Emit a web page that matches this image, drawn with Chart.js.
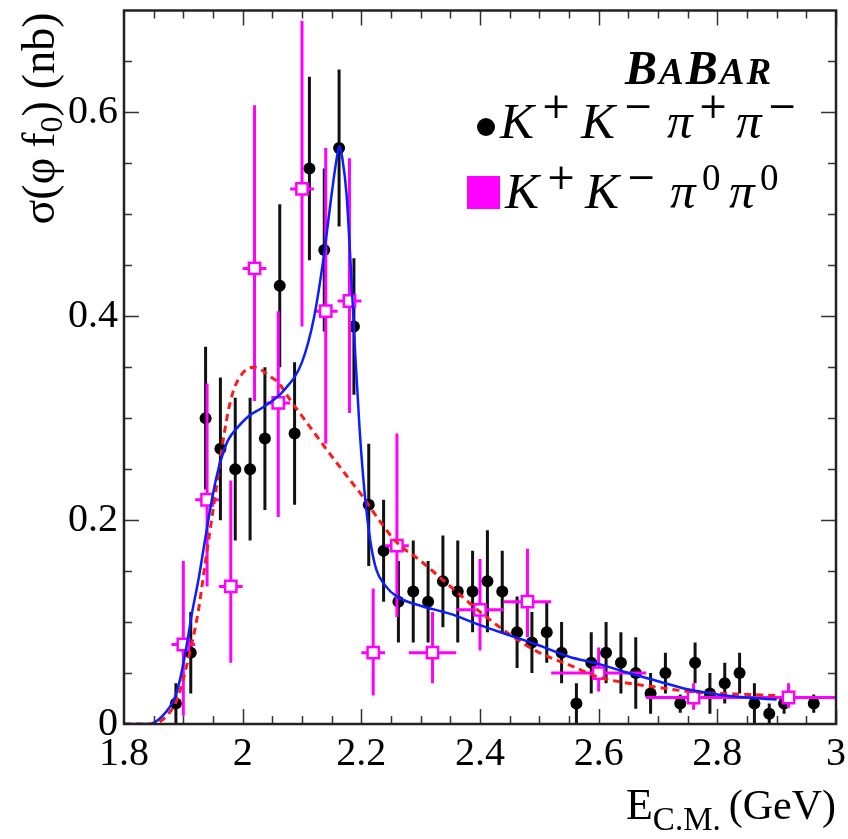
<!DOCTYPE html>
<html>
<head>
<meta charset="utf-8">
<script src="https://cdn.jsdelivr.net/npm/chart.js@4.4.1/dist/chart.umd.min.js"></script>
<style>
  html, body { margin: 0; padding: 0; background: #fff; }
  #wrap { width: 848px; height: 839px; }
</style>
</head>
<body>
<div id="wrap"><canvas id="plot" width="848" height="839"></canvas></div>
<script>
// K+K-pi+pi- cross section (black dots)
var kkpipiE = [1.8875, 1.9125, 1.9375, 1.9625, 1.9875, 2.0125, 2.0375, 2.0625, 2.0875, 2.1125,
               2.1375, 2.1625, 2.1875, 2.2125, 2.2375, 2.2625, 2.2875, 2.3125, 2.3375, 2.3625,
               2.3875, 2.4125, 2.4375, 2.4625, 2.4875, 2.5125, 2.5375, 2.5625, 2.5875, 2.6125,
               2.6375, 2.6625, 2.6875, 2.7125, 2.7375, 2.7625, 2.7875, 2.8125, 2.8375, 2.8625,
               2.8875, 2.9125, 2.9625];
var kkpipiSigma = [0.02, 0.07, 0.30, 0.27, 0.25, 0.25, 0.28, 0.43, 0.285, 0.545,
                   0.465, 0.565, 0.39, 0.215, 0.17, 0.12, 0.13, 0.12, 0.14, 0.13,
                   0.13, 0.14, 0.13, 0.09, 0.08, 0.09, 0.07, 0.02, 0.06, 0.07,
                   0.06, 0.05, 0.03, 0.05, 0.02, 0.06, 0.03, 0.04, 0.05, 0.02,
                   0.01, 0.02, 0.02];
var kkpipiErr = [0.02, 0.04, 0.07, 0.07, 0.07, 0.07, 0.07, 0.08, 0.07, 0.09,
                 0.08, 0.077, 0.067, 0.06, 0.05, 0.04, 0.05, 0.04, 0.045, 0.05,
                 0.04, 0.05, 0.04, 0.035, 0.03, 0.03, 0.03, 0.02, 0.03, 0.03,
                 0.03, 0.035, 0.02, 0.02, 0.009, 0.02, 0.02, 0.02, 0.02, 0.02,
                 0.01, 0.01, 0.009];

// K+K-pi0pi0 cross section (magenta open squares)
var kkpi0E = [1.90, 1.94, 1.98, 2.02, 2.06, 2.10, 2.14, 2.18, 2.22, 2.26, 2.32, 2.40, 2.48, 2.60, 2.76, 2.92];
var kkpi0Sigma = [0.078, 0.22, 0.135, 0.447, 0.315, 0.525, 0.405, 0.415, 0.07, 0.175, 0.07, 0.112, 0.12, 0.05, 0.026, 0.026];
var kkpi0ErrHi = [0.082, 0.114, 0.104, 0.16, 0.09, 0.165, 0.16, 0.14, 0.063, 0.11, 0.04, 0.05, 0.052, 0.025, 0.014, 0.014];
var kkpi0ErrLo = [0.07, 0.085, 0.075, 0.13, 0.112, 0.135, 0.13, 0.11, 0.042, 0.07, 0.03, 0.04, 0.035, 0.018, 0.012, 0.01];
var kkpi0HalfBin = [0.02, 0.02, 0.02, 0.02, 0.02, 0.02, 0.02, 0.02, 0.02, 0.02, 0.04, 0.04, 0.04, 0.08, 0.08, 0.08];

// fit with the Y(2175) included (blue)
var fitBlueE = [1.80, 1.845, 1.855, 1.865, 1.875, 1.885, 1.895, 1.905, 1.915, 1.925,
                1.935, 1.945, 1.955, 1.965, 1.975, 1.99, 2.01, 2.035, 2.069, 2.10,
                2.12, 2.137, 2.15, 2.158, 2.163, 2.168, 2.175, 2.183, 2.19, 2.197,
                2.205, 2.215, 2.225, 2.24, 2.26, 2.3, 2.35, 2.4, 2.45, 2.5,
                2.55, 2.6, 2.65, 2.7, 2.75, 2.8, 2.85, 2.9];
var fitBlueSigma = [0, 0, 0.003, 0.008, 0.015, 0.025, 0.045, 0.075, 0.11, 0.14,
                    0.175, 0.21, 0.24, 0.262, 0.278, 0.29, 0.302, 0.311, 0.327, 0.355,
                    0.398, 0.46, 0.52, 0.553, 0.567, 0.555, 0.52, 0.44, 0.36, 0.29,
                    0.23, 0.18, 0.152, 0.136, 0.125, 0.116, 0.108, 0.097, 0.087, 0.077,
                    0.066, 0.059, 0.05, 0.042, 0.034, 0.029, 0.026, 0.024];

// fit without resonance (red dashed)
var fitRedE = [1.80, 1.85, 1.862, 1.875, 1.89, 1.91, 1.925, 1.935, 1.945, 1.956,
               1.965, 1.975, 1.985, 1.997, 2.01, 2.02, 2.03, 2.046, 2.06, 2.08,
               2.114, 2.147, 2.18, 2.2, 2.23, 2.26, 2.3, 2.35, 2.4, 2.45,
               2.5, 2.55, 2.6, 2.65, 2.7, 2.75, 2.8, 2.85, 2.9];
var fitRedSigma = [0, 0, 0.003, 0.01, 0.025, 0.068, 0.11, 0.15, 0.19, 0.233,
                   0.27, 0.305, 0.328, 0.342, 0.349, 0.35, 0.348, 0.341, 0.335, 0.318,
                   0.291, 0.265, 0.24, 0.225, 0.2, 0.178, 0.16, 0.135, 0.11, 0.088,
                   0.07, 0.058, 0.046, 0.04, 0.036, 0.032, 0.03, 0.029, 0.028];

var xTicks = [1.8, 2, 2.2, 2.4, 2.6, 2.8, 3];
var yTicks = [0, 0.2, 0.4, 0.6];

var SERIF = '"Liberation Serif", "DejaVu Serif", serif';
var MAGENTA = '#ff00ff';

function pts(xs, ys) {
    return xs.map(function(x, i){ return {x: x, y: ys[i]}; });
}

// error bars, drawn just before each dataset's markers
var errorBars = {
    id: 'errorBars',
    beforeDatasetDraw: function(chart, args) {
        var ds = chart.data.datasets[args.index];
        if (!ds.errHi) return;
        var ctx = chart.ctx, xs = chart.scales.x, ys = chart.scales.y, a = chart.chartArea;
        ctx.save();
        ctx.beginPath();
        ctx.rect(a.left, a.top, a.right - a.left, a.bottom - a.top);
        ctx.clip();
        ctx.strokeStyle = ds.barColor;
        ctx.lineWidth = 3;
        ds.data.forEach(function(p, i){
            var px = xs.getPixelForValue(p.x);
            var py = ys.getPixelForValue(p.y);
            ctx.beginPath();
            ctx.moveTo(px, ys.getPixelForValue(p.y + ds.errHi[i]));
            ctx.lineTo(px, ys.getPixelForValue(Math.max(0, p.y - ds.errLo[i])));
            if (ds.halfBin) {
                ctx.moveTo(xs.getPixelForValue(p.x - ds.halfBin[i]), py);
                ctx.lineTo(xs.getPixelForValue(p.x + ds.halfBin[i]), py);
            }
            ctx.stroke();
        });
        ctx.restore();
    }
};

// draw text pieces one after another: [text, font, dy, gapAfter]
function drawRuns(ctx, runs, x, y) {
    runs.forEach(function(r){
        ctx.font = r[1];
        ctx.fillText(r[0], x, y + (r[2] || 0));
        x += ctx.measureText(r[0]).width + (r[3] || 0);
    });
    return x;
}
function runsWidth(ctx, runs) {
    var w = 0;
    runs.forEach(function(r){
        ctx.font = r[1];
        w += ctx.measureText(r[0]).width + (r[3] || 0);
    });
    return w;
}
// legend pieces placed at fixed offsets: [text, font, dy, x]
function drawPlaced(ctx, runs, y) {
    runs.forEach(function(r){
        ctx.font = r[1];
        ctx.fillText(r[0], r[3], y + r[2]);
    });
}

// frame, inward ticks, axis titles and legend
var decorations = {
    id: 'decorations',
    afterDraw: function(chart) {
        var ctx = chart.ctx, xs = chart.scales.x, ys = chart.scales.y, a = chart.chartArea;
        ctx.save();

        // ticks on all four sides, pointing into the frame
        ctx.strokeStyle = '#333';
        ctx.lineWidth = 1.5;
        ctx.beginPath();
        var v, px, py, len;
        for (v = 1.85; v < 3.0; v += 0.05) {
            px = Math.round(xs.getPixelForValue(v)) + 0.5;
            len = (Math.abs(v * 5 - Math.round(v * 5)) < 1e-6) ? 15 : 8;
            ctx.moveTo(px, a.bottom); ctx.lineTo(px, a.bottom - len);
            ctx.moveTo(px, a.top); ctx.lineTo(px, a.top + len);
        }
        for (v = 0.05; v < 0.7; v += 0.05) {
            py = Math.round(ys.getPixelForValue(v)) + 0.5;
            len = (Math.abs(v * 5 - Math.round(v * 5)) < 1e-6) ? 15 : 8;
            ctx.moveTo(a.left, py); ctx.lineTo(a.left + len, py);
            ctx.moveTo(a.right, py); ctx.lineTo(a.right - len, py);
        }
        ctx.stroke();

        ctx.strokeStyle = '#222';
        ctx.lineWidth = 2.5;
        ctx.strokeRect(a.left, a.top, a.right - a.left, a.bottom - a.top);

        ctx.fillStyle = '#000';
        ctx.textBaseline = 'alphabetic';
        ctx.textAlign = 'left';

        // x axis title, right aligned to the frame
        var xt = [['E', '44px ' + SERIF, 0, 0], ['C.M.', '33px ' + SERIF, 11, 8], ['(GeV)', '42px ' + SERIF, 0, 0]];
        drawRuns(ctx, xt, a.right - runsWidth(ctx, xt), 819);

        // y axis title, rotated, ending at the top of the frame
        var yf = '46px ' + SERIF;
        var yt = [['σ(φ', yf, 0, 10], ['f', yf, 0, 0], ['0', '32px ' + SERIF, 8, 0], [')', yf, 0, 12], ['(nb)', yf, 0, 0]];
        ctx.save();
        ctx.translate(54, a.top + 2);
        ctx.rotate(-Math.PI / 2);
        drawRuns(ctx, yt, -runsWidth(ctx, yt), 0);
        ctx.restore();

        // experiment label
        var big = 'italic bold 48px ' + SERIF, small = 'italic bold 37px ' + SERIF;
        drawRuns(ctx, [['B', big, 0, 2], ['A', small, 0, 2], ['B', big, 0, 2], ['A', small, 0, 2], ['R', small, 0, 0]], 625, 84);

        // legend entries
        var kf = 'italic 51px ' + SERIF, sup = '36px "DejaVu Serif", serif', sup0 = '37px ' + SERIF;
        ctx.beginPath();
        ctx.arc(486, 127, 9, 0, 2 * Math.PI);
        ctx.fill();
        drawPlaced(ctx, [['K', kf, 0, 500], ['+', sup, -20, 541], ['K', kf, 0, 581], ['\u2212', sup, -20, 623],
                         ['π', kf, 0, 667], ['+', sup, -20, 698], ['π', kf, 0, 736], ['\u2212', sup, -20, 767]], 138);

        ctx.fillStyle = MAGENTA;
        ctx.fillRect(467, 176, 33, 33);
        ctx.fillStyle = '#000';
        drawPlaced(ctx, [['K', kf, 0, 505], ['+', sup, -19, 546], ['K', kf, 0, 585], ['\u2212', sup, -19, 626],
                         ['π', kf, 0, 670], ['0', sup0, -18, 702], ['π', kf, 0, 729], ['0', sup0, -18, 760]], 208);

        ctx.restore();
    }
};

var ctx = document.getElementById('plot').getContext('2d');
var chart = new Chart(ctx, {
    type: 'scatter',
    data: {
        datasets: [
        {
            label: 'fit Y(2175)',
            data: pts(fitBlueE, fitBlueSigma),
            showLine: true,
            borderColor: '#0a1eff',
            borderWidth: 2.5,
            pointRadius: 0,
            cubicInterpolationMode: 'monotone',
            order: 0
        },
        {
            label: 'fit no resonance',
            data: pts(fitRedE, fitRedSigma),
            showLine: true,
            borderColor: '#ff1a1a',
            borderWidth: 3,
            borderDash: [7, 5],
            pointRadius: 0,
            cubicInterpolationMode: 'monotone',
            order: 1
        },
        {
            label: 'K+K-pi0pi0',
            data: pts(kkpi0E, kkpi0Sigma),
            errHi: kkpi0ErrHi,
            errLo: kkpi0ErrLo,
            halfBin: kkpi0HalfBin,
            barColor: MAGENTA,
            pointStyle: 'rect',
            pointRadius: 8,
            pointBorderWidth: 2.5,
            pointBorderColor: MAGENTA,
            pointBackgroundColor: '#fff',
            order: 2
        },
        {
            label: 'K+K-pi+pi-',
            data: pts(kkpipiE, kkpipiSigma),
            errHi: kkpipiErr,
            errLo: kkpipiErr,
            barColor: '#111',
            pointStyle: 'circle',
            pointRadius: 6,
            pointBorderWidth: 0,
            pointBackgroundColor: '#000',
            order: 3
        }]
    },
    options: {
        responsive: false,
        animation: false,
        devicePixelRatio: 1,
        layout: { padding: { top: 8, right: 12, left: 0, bottom: 0 } },
        plugins: { legend: { display: false }, tooltip: { enabled: false } },
        scales: {
            x: {
                type: 'linear',
                min: 1.8,
                max: 3.0,
                grid: { display: false, drawTicks: false },
                border: { display: false },
                afterBuildTicks: function(s){ s.ticks = xTicks.map(function(v){ return {value: v}; }); },
                afterFit: function(s){ s.height = 115; s.paddingLeft = 0; s.paddingRight = 0; },
                ticks: {
                    padding: 6,
                    color: '#000',
                    maxRotation: 0,
                    font: { family: SERIF, size: 40 },
                    callback: function(v){ return String(+v.toFixed(1)); }
                }
            },
            y: {
                type: 'linear',
                min: 0,
                max: 0.70,
                grid: { display: false, drawTicks: false },
                border: { display: false },
                afterBuildTicks: function(s){ s.ticks = yTicks.map(function(v){ return {value: v}; }); },
                afterFit: function(s){ s.width = 124; s.paddingTop = 0; s.paddingBottom = 0; },
                ticks: {
                    padding: 6,
                    color: '#000',
                    font: { family: SERIF, size: 40 },
                    callback: function(v){ return String(+v.toFixed(1)); }
                }
            }
        }
    },
    plugins: [errorBars, decorations]
});
</script>
</body>
</html>
